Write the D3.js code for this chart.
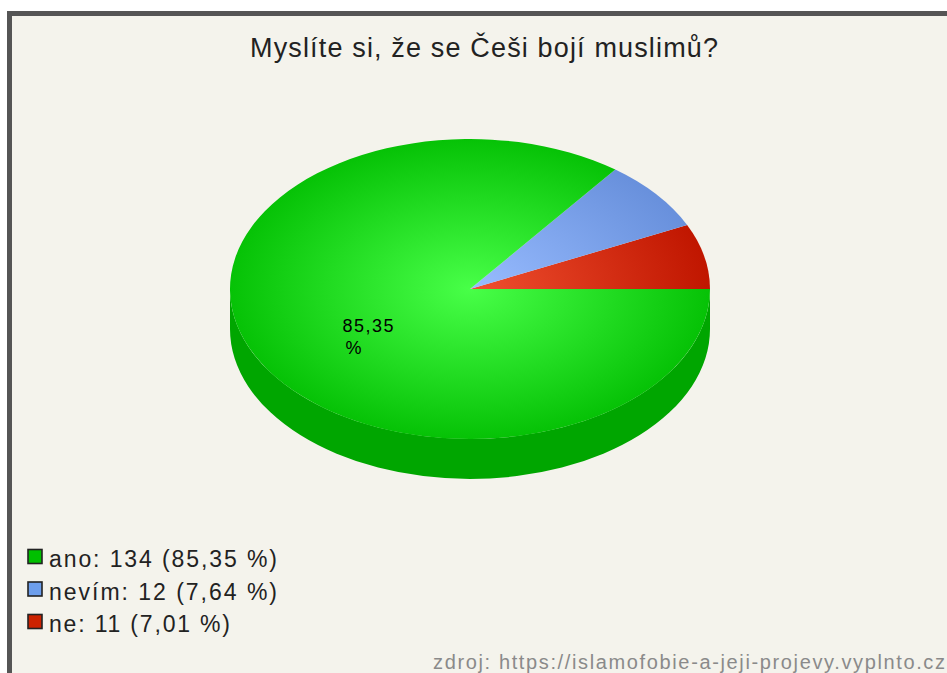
<!DOCTYPE html>
<html>
<head>
<meta charset="utf-8">
<script src="https://cdn.jsdelivr.net/npm/d3@7"></script>
<style>
  body { margin: 0; background: #fff; }
  svg { display: block; }
</style>
</head>
<body>
<div id="graf"></div>
<script>
// DATOS.
const titulo = "Myslíte si, že se Češi bojí muslimů?";
const categorias = ["ne", "nevím", "ano"];
const votos = [11, 12, 134];
const porcentajes = ["7,01", "7,64", "85,35"];
const ordenLeyenda = ["ano", "nevím", "ne"];
const fuente = "zdroj: https://islamofobie-a-jeji-projevy.vyplnto.cz";

// colores: [claro, oscuro, lateral, leyenda]
const colores = {
  "ano":   ["#48ff48", "#06c206", "#00a600", "#00c000"],
  "nevím": ["#98bcff", "#6890dc", "#4f74b8", "#6d9eeb"],
  "ne":    ["#f05030", "#c01600", "#9a1000", "#cc2200"]
};
// el texto original va muy espaciado: anchos medidos en la imagen
const anchoLeyenda = {"ano": 228, "nevím": 228, "ne": 181};

const W = 947, H = 673;
const cx = 470, cy = 289, rx = 240, ry = 150, depth = 40;
const fam = "Liberation Sans, Arial, sans-serif";

const svg = d3.select("#graf").append("svg")
  .attr("width", W).attr("height", H);

// marco
svg.append("rect").attr("x", 7).attr("y", 11)
  .attr("width", W - 7).attr("height", H - 11).attr("fill", "#555");
svg.append("rect").attr("x", 12).attr("y", 16)
  .attr("width", W - 12).attr("height", H - 16).attr("fill", "#f4f3ec");

// titulo
svg.append("text").attr("x", 250).attr("y", 57)
  .attr("font-family", fam)
  .attr("font-size", "27px").attr("fill", "#222")
  .attr("textLength", 468).attr("lengthAdjust", "spacing")
  .text(titulo);

const defs = svg.append("defs");
categorias.forEach(function(c, i){
  const g = defs.append("radialGradient").attr("id", "g" + i)
    .attr("gradientUnits", "userSpaceOnUse")
    .attr("cx", cx).attr("cy", cy).attr("r", rx)
    .attr("fx", cx).attr("fy", cy)
    .attr("gradientTransform", "translate(" + cx + "," + cy + ") scale(1," + (ry / rx) + ") translate(" + (-cx) + "," + (-cy) + ")");
  g.append("stop").attr("offset", "0%").attr("stop-color", colores[c][0]);
  g.append("stop").attr("offset", "100%").attr("stop-color", colores[c][1]);
});

const pie = d3.pie().sort(null)
  .startAngle(Math.PI / 2).endAngle(Math.PI / 2 - 2 * Math.PI);
const arcs = pie(votos);

function punto(a, dy){
  return [cx + rx * Math.sin(a), cy - ry * Math.cos(a) + (dy || 0)];
}

// laterales (mitad inferior visible)
const lado = svg.append("g");
arcs.forEach(function(d, i){
  const a0 = Math.min(d.startAngle, -Math.PI / 2);
  const a1 = Math.max(d.endAngle, -3 * Math.PI / 2);
  if (a0 <= a1) return;
  const p0 = punto(a0), p1 = punto(a1), q0 = punto(a0, depth), q1 = punto(a1, depth);
  const path = "M" + p0 + " A" + rx + "," + ry + " 0 0 0 " + p1 +
    " L" + q1 + " A" + rx + "," + ry + " 0 0 1 " + q0 + " Z";
  lado.append("path").attr("d", path).attr("fill", colores[categorias[i]][2]);
});

// caras superiores
const arriba = svg.append("g");
arcs.forEach(function(d, i){
  const p0 = punto(d.startAngle), p1 = punto(d.endAngle);
  const large = Math.abs(d.endAngle - d.startAngle) > Math.PI ? 1 : 0;
  const path = "M" + cx + "," + cy + " L" + p0 + " A" + rx + "," + ry + " 0 " + large + " 0 " + p1 + " Z";
  arriba.append("path").attr("d", path).attr("fill", "url(#g" + i + ")");
});

// etiqueta del sector mayor
arcs.forEach(function(d, i){
  if (d.endAngle - d.startAngle > -Math.PI) return;
  const m = (d.startAngle + d.endAngle) / 2;
  const p = [cx + 0.5 * rx * Math.sin(m), cy - 0.5 * ry * Math.cos(m)];
  const t = svg.append("text")
    .attr("font-family", fam)
    .attr("font-size", "18px").attr("fill", "#000");
  t.append("tspan").attr("x", p[0] - 20).attr("y", p[1] + 10)
    .attr("textLength", 51).attr("lengthAdjust", "spacing").text(porcentajes[i]);
  t.append("tspan").attr("x", p[0] - 17).attr("y", p[1] + 32).text("%");
});

// leyenda
const ley = svg.append("g")
  .attr("font-family", fam)
  .attr("font-size", "23px").attr("fill", "#222");
ordenLeyenda.forEach(function(c, j){
  const i = categorias.indexOf(c);
  const y = 549 + j * 32.5;
  ley.append("rect").attr("x", 28).attr("y", y + 0.5)
    .attr("width", 14).attr("height", 14)
    .attr("fill", colores[c][3]).attr("stroke", "#222").attr("stroke-width", 1.6);
  ley.append("text").attr("x", 49).attr("y", y + 18)
    .attr("textLength", anchoLeyenda[c]).attr("lengthAdjust", "spacing")
    .text(c + ": " + votos[i] + " (" + porcentajes[i] + " %)");
});

// fuente
svg.append("text").attr("x", 433).attr("y", 669)
  .attr("font-family", fam)
  .attr("font-size", "20px").attr("fill", "#8a8a8a")
  .attr("textLength", 512).attr("lengthAdjust", "spacing")
  .text(fuente);
</script>
</body>
</html>
